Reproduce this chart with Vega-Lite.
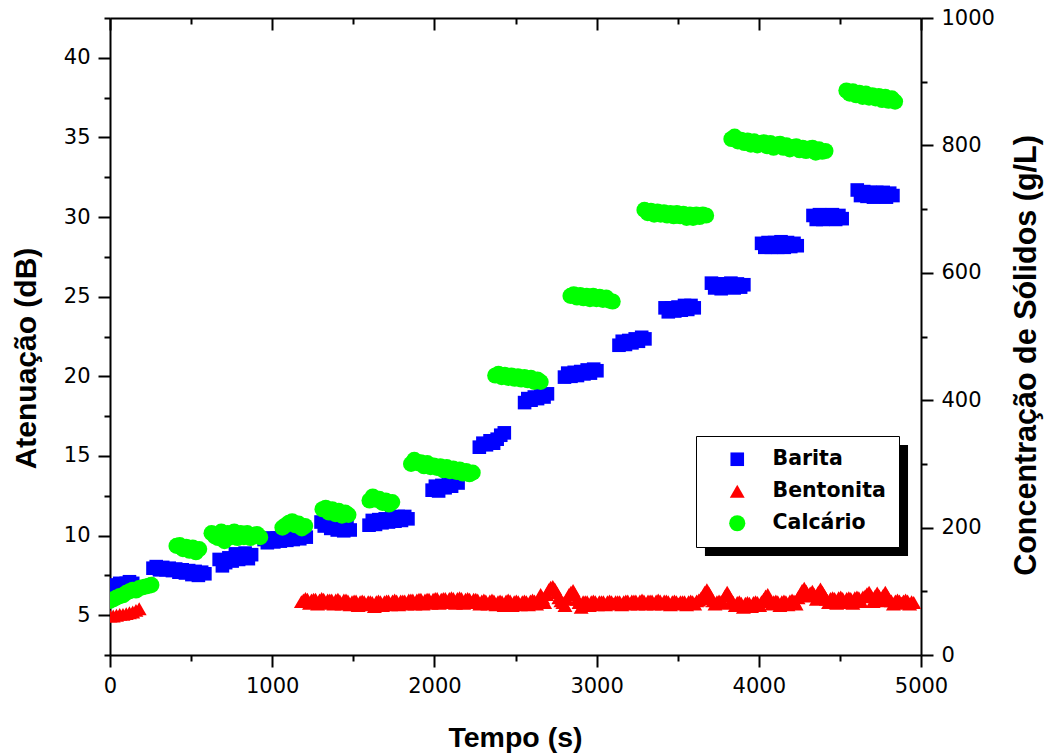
{
  "$schema": "https://vega.github.io/schema/vega-lite/v6.json",
  "width": 811,
  "height": 637,
  "autosize": "none",
  "padding": {"left": 110, "top": 18, "right": 123, "bottom": 98},
  "background": "white",
  "config": {
    "view": {"stroke": null},
    "font": "DejaVu Sans",
    "axis": {
      "domainColor": "black", "domainWidth": 2, "tickColor": "black", "tickWidth": 2,
      "labelColor": "black", "labelFont": "DejaVu Sans", "labelFontSize": 21, "labelPadding": 8,
      "titleColor": "black", "titleFont": "Liberation Sans", "titleFontWeight": "bold", "titleFontSize": 30,
      "grid": false, "zindex": 1, "format": "d", "labelFlush": false, "labelOverlap": false
    },
    "legend": {
      "orient": "none", "legendX": 586, "legendY": 418,
      "fillColor": "white", "strokeColor": "black", "padding": 13,
      "labelFont": "DejaVu Sans", "labelFontWeight": "bold", "labelFontSize": 20.5, "labelColor": "black",
      "rowPadding": 11, "symbolOffset": 18, "labelOffset": 25, "symbolStrokeWidth": 0
    }
  },
  "layer": [
    {
      "data": {"values": [
        {"t":0,"v":6.7,"m":"Barita"},{"t":20,"v":6.9,"m":"Barita"},{"t":40,"v":6.8,"m":"Barita"},{"t":60,"v":7.0,"m":"Barita"},{"t":80,"v":6.9,"m":"Barita"},{"t":100,"v":7.0,"m":"Barita"},{"t":120,"v":7.1,"m":"Barita"},{"t":140,"v":7.0,"m":"Barita"},
        {"t":265,"v":7.95,"m":"Barita"},{"t":285,"v":8.05,"m":"Barita"},{"t":305,"v":7.85,"m":"Barita"},{"t":325,"v":8.0,"m":"Barita"},{"t":345,"v":7.85,"m":"Barita"},{"t":365,"v":7.95,"m":"Barita"},{"t":385,"v":7.8,"m":"Barita"},{"t":405,"v":7.9,"m":"Barita"},{"t":425,"v":7.7,"m":"Barita"},{"t":445,"v":7.85,"m":"Barita"},{"t":465,"v":7.65,"m":"Barita"},{"t":485,"v":7.8,"m":"Barita"},{"t":505,"v":7.55,"m":"Barita"},{"t":525,"v":7.75,"m":"Barita"},{"t":545,"v":7.5,"m":"Barita"},{"t":565,"v":7.7,"m":"Barita"},{"t":585,"v":7.6,"m":"Barita"},
        {"t":673,"v":8.5,"m":"Barita"},{"t":693,"v":8.1,"m":"Barita"},{"t":713,"v":8.3,"m":"Barita"},{"t":733,"v":8.6,"m":"Barita"},{"t":753,"v":8.4,"m":"Barita"},{"t":773,"v":8.85,"m":"Barita"},{"t":793,"v":8.5,"m":"Barita"},{"t":813,"v":8.75,"m":"Barita"},{"t":833,"v":8.9,"m":"Barita"},{"t":853,"v":8.55,"m":"Barita"},{"t":873,"v":8.8,"m":"Barita"},
        {"t":950,"v":9.75,"m":"Barita"},{"t":970,"v":9.55,"m":"Barita"},{"t":990,"v":9.85,"m":"Barita"},{"t":1010,"v":9.6,"m":"Barita"},{"t":1030,"v":9.85,"m":"Barita"},{"t":1050,"v":9.65,"m":"Barita"},{"t":1070,"v":9.95,"m":"Barita"},{"t":1090,"v":9.7,"m":"Barita"},{"t":1110,"v":9.95,"m":"Barita"},{"t":1130,"v":9.75,"m":"Barita"},{"t":1150,"v":10.05,"m":"Barita"},{"t":1170,"v":9.8,"m":"Barita"},{"t":1190,"v":10.05,"m":"Barita"},{"t":1210,"v":9.9,"m":"Barita"},
        {"t":1301,"v":10.85,"m":"Barita"},{"t":1321,"v":10.6,"m":"Barita"},{"t":1341,"v":10.75,"m":"Barita"},{"t":1361,"v":10.45,"m":"Barita"},{"t":1381,"v":10.7,"m":"Barita"},{"t":1401,"v":10.35,"m":"Barita"},{"t":1421,"v":10.65,"m":"Barita"},{"t":1441,"v":10.3,"m":"Barita"},{"t":1461,"v":10.55,"m":"Barita"},{"t":1481,"v":10.35,"m":"Barita"},
        {"t":1597,"v":10.65,"m":"Barita"},{"t":1617,"v":10.95,"m":"Barita"},{"t":1637,"v":10.7,"m":"Barita"},{"t":1657,"v":11.0,"m":"Barita"},{"t":1677,"v":10.8,"m":"Barita"},{"t":1697,"v":11.05,"m":"Barita"},{"t":1717,"v":10.85,"m":"Barita"},{"t":1737,"v":11.15,"m":"Barita"},{"t":1757,"v":10.9,"m":"Barita"},{"t":1777,"v":11.2,"m":"Barita"},{"t":1797,"v":10.95,"m":"Barita"},{"t":1817,"v":11.2,"m":"Barita"},{"t":1837,"v":11.05,"m":"Barita"},
        {"t":1986,"v":12.85,"m":"Barita"},{"t":2006,"v":13.1,"m":"Barita"},{"t":2026,"v":12.8,"m":"Barita"},{"t":2046,"v":13.15,"m":"Barita"},{"t":2066,"v":13.0,"m":"Barita"},{"t":2086,"v":13.25,"m":"Barita"},{"t":2106,"v":13.1,"m":"Barita"},{"t":2126,"v":13.35,"m":"Barita"},{"t":2146,"v":13.3,"m":"Barita"},
        {"t":2277,"v":15.55,"m":"Barita"},{"t":2299,"v":15.8,"m":"Barita"},{"t":2321,"v":15.7,"m":"Barita"},{"t":2343,"v":15.95,"m":"Barita"},{"t":2365,"v":15.8,"m":"Barita"},{"t":2387,"v":16.05,"m":"Barita"},{"t":2409,"v":16.3,"m":"Barita"},{"t":2431,"v":16.45,"m":"Barita"},
        {"t":2556,"v":18.35,"m":"Barita"},{"t":2576,"v":18.6,"m":"Barita"},{"t":2596,"v":18.5,"m":"Barita"},{"t":2616,"v":18.7,"m":"Barita"},{"t":2636,"v":18.6,"m":"Barita"},{"t":2656,"v":18.85,"m":"Barita"},{"t":2676,"v":18.7,"m":"Barita"},{"t":2697,"v":18.9,"m":"Barita"},
        {"t":2802,"v":19.95,"m":"Barita"},{"t":2822,"v":20.2,"m":"Barita"},{"t":2842,"v":20.0,"m":"Barita"},{"t":2862,"v":20.25,"m":"Barita"},{"t":2882,"v":20.05,"m":"Barita"},{"t":2902,"v":20.3,"m":"Barita"},{"t":2922,"v":20.15,"m":"Barita"},{"t":2942,"v":20.4,"m":"Barita"},{"t":2962,"v":20.2,"m":"Barita"},{"t":2982,"v":20.45,"m":"Barita"},{"t":3002,"v":20.35,"m":"Barita"},
        {"t":3138,"v":21.95,"m":"Barita"},{"t":3158,"v":22.2,"m":"Barita"},{"t":3178,"v":22.0,"m":"Barita"},{"t":3198,"v":22.25,"m":"Barita"},{"t":3218,"v":22.1,"m":"Barita"},{"t":3238,"v":22.35,"m":"Barita"},{"t":3258,"v":22.2,"m":"Barita"},{"t":3278,"v":22.45,"m":"Barita"},{"t":3298,"v":22.35,"m":"Barita"},
        {"t":3422,"v":24.3,"m":"Barita"},{"t":3442,"v":24.05,"m":"Barita"},{"t":3462,"v":24.3,"m":"Barita"},{"t":3482,"v":24.1,"m":"Barita"},{"t":3502,"v":24.35,"m":"Barita"},{"t":3522,"v":24.15,"m":"Barita"},{"t":3542,"v":24.45,"m":"Barita"},{"t":3562,"v":24.2,"m":"Barita"},{"t":3582,"v":24.45,"m":"Barita"},{"t":3602,"v":24.3,"m":"Barita"},
        {"t":3708,"v":25.85,"m":"Barita"},{"t":3728,"v":25.55,"m":"Barita"},{"t":3748,"v":25.8,"m":"Barita"},{"t":3768,"v":25.5,"m":"Barita"},{"t":3788,"v":25.8,"m":"Barita"},{"t":3808,"v":25.6,"m":"Barita"},{"t":3828,"v":25.85,"m":"Barita"},{"t":3848,"v":25.55,"m":"Barita"},{"t":3868,"v":25.8,"m":"Barita"},{"t":3888,"v":25.6,"m":"Barita"},{"t":3908,"v":25.75,"m":"Barita"},
        {"t":4017,"v":28.35,"m":"Barita"},{"t":4037,"v":28.1,"m":"Barita"},{"t":4057,"v":28.4,"m":"Barita"},{"t":4077,"v":28.1,"m":"Barita"},{"t":4097,"v":28.4,"m":"Barita"},{"t":4117,"v":28.1,"m":"Barita"},{"t":4137,"v":28.45,"m":"Barita"},{"t":4157,"v":28.1,"m":"Barita"},{"t":4177,"v":28.4,"m":"Barita"},{"t":4197,"v":28.15,"m":"Barita"},{"t":4217,"v":28.35,"m":"Barita"},{"t":4237,"v":28.2,"m":"Barita"},
        {"t":4334,"v":30.1,"m":"Barita"},{"t":4354,"v":29.85,"m":"Barita"},{"t":4374,"v":30.15,"m":"Barita"},{"t":4394,"v":29.85,"m":"Barita"},{"t":4414,"v":30.1,"m":"Barita"},{"t":4434,"v":29.9,"m":"Barita"},{"t":4454,"v":30.15,"m":"Barita"},{"t":4474,"v":29.85,"m":"Barita"},{"t":4494,"v":30.1,"m":"Barita"},{"t":4514,"v":29.9,"m":"Barita"},
        {"t":4607,"v":31.7,"m":"Barita"},{"t":4627,"v":31.35,"m":"Barita"},{"t":4647,"v":31.6,"m":"Barita"},{"t":4667,"v":31.3,"m":"Barita"},{"t":4687,"v":31.55,"m":"Barita"},{"t":4707,"v":31.25,"m":"Barita"},{"t":4727,"v":31.55,"m":"Barita"},{"t":4747,"v":31.3,"m":"Barita"},{"t":4767,"v":31.55,"m":"Barita"},{"t":4787,"v":31.25,"m":"Barita"},{"t":4807,"v":31.5,"m":"Barita"},{"t":4827,"v":31.35,"m":"Barita"},

        {"t":0,"v":4.95,"m":"Bentonita"},{"t":20,"v":4.95,"m":"Bentonita"},{"t":40,"v":5.0,"m":"Bentonita"},{"t":60,"v":5.05,"m":"Bentonita"},{"t":80,"v":5.05,"m":"Bentonita"},{"t":100,"v":5.1,"m":"Bentonita"},{"t":120,"v":5.15,"m":"Bentonita"},{"t":140,"v":5.2,"m":"Bentonita"},{"t":160,"v":5.3,"m":"Bentonita"},{"t":180,"v":5.4,"m":"Bentonita"},
        {"t":1180,"v":5.85,"m":"Bentonita"},{"t":1205,"v":6.05,"m":"Bentonita"},{"t":1230,"v":5.75,"m":"Bentonita"},{"t":1255,"v":6.0,"m":"Bentonita"},{"t":1280,"v":5.7,"m":"Bentonita"},{"t":1305,"v":6.05,"m":"Bentonita"},{"t":1330,"v":5.75,"m":"Bentonita"},{"t":1355,"v":5.95,"m":"Bentonita"},{"t":1380,"v":5.7,"m":"Bentonita"},{"t":1405,"v":6.0,"m":"Bentonita"},{"t":1430,"v":5.7,"m":"Bentonita"},{"t":1455,"v":5.95,"m":"Bentonita"},{"t":1480,"v":5.65,"m":"Bentonita"},{"t":1505,"v":5.9,"m":"Bentonita"},{"t":1530,"v":5.6,"m":"Bentonita"},{"t":1555,"v":5.9,"m":"Bentonita"},{"t":1580,"v":5.65,"m":"Bentonita"},{"t":1605,"v":5.85,"m":"Bentonita"},{"t":1630,"v":5.55,"m":"Bentonita"},{"t":1655,"v":5.9,"m":"Bentonita"},{"t":1680,"v":5.6,"m":"Bentonita"},{"t":1705,"v":5.9,"m":"Bentonita"},{"t":1730,"v":5.65,"m":"Bentonita"},{"t":1755,"v":5.95,"m":"Bentonita"},{"t":1780,"v":5.65,"m":"Bentonita"},{"t":1805,"v":5.9,"m":"Bentonita"},{"t":1830,"v":5.7,"m":"Bentonita"},{"t":1855,"v":5.95,"m":"Bentonita"},{"t":1880,"v":5.7,"m":"Bentonita"},{"t":1905,"v":6.0,"m":"Bentonita"},{"t":1930,"v":5.7,"m":"Bentonita"},{"t":1955,"v":6.0,"m":"Bentonita"},{"t":1980,"v":5.75,"m":"Bentonita"},{"t":2005,"v":6.05,"m":"Bentonita"},{"t":2030,"v":5.75,"m":"Bentonita"},{"t":2055,"v":6.05,"m":"Bentonita"},{"t":2080,"v":5.8,"m":"Bentonita"},{"t":2105,"v":6.1,"m":"Bentonita"},{"t":2130,"v":5.75,"m":"Bentonita"},{"t":2155,"v":6.1,"m":"Bentonita"},{"t":2180,"v":5.75,"m":"Bentonita"},{"t":2205,"v":6.05,"m":"Bentonita"},{"t":2230,"v":5.8,"m":"Bentonita"},{"t":2255,"v":6.0,"m":"Bentonita"},{"t":2280,"v":5.7,"m":"Bentonita"},{"t":2305,"v":5.95,"m":"Bentonita"},{"t":2330,"v":5.7,"m":"Bentonita"},{"t":2355,"v":5.95,"m":"Bentonita"},{"t":2380,"v":5.65,"m":"Bentonita"},{"t":2405,"v":5.9,"m":"Bentonita"},{"t":2430,"v":5.6,"m":"Bentonita"},{"t":2455,"v":5.95,"m":"Bentonita"},{"t":2480,"v":5.6,"m":"Bentonita"},{"t":2505,"v":5.9,"m":"Bentonita"},{"t":2530,"v":5.65,"m":"Bentonita"},{"t":2555,"v":5.9,"m":"Bentonita"},{"t":2580,"v":5.65,"m":"Bentonita"},{"t":2605,"v":5.95,"m":"Bentonita"},{"t":2630,"v":5.7,"m":"Bentonita"},{"t":2655,"v":6.3,"m":"Bentonita"},{"t":2680,"v":5.8,"m":"Bentonita"},{"t":2705,"v":6.6,"m":"Bentonita"},{"t":2730,"v":6.8,"m":"Bentonita"},{"t":2755,"v":6.4,"m":"Bentonita"},{"t":2780,"v":5.9,"m":"Bentonita"},{"t":2805,"v":5.6,"m":"Bentonita"},{"t":2830,"v":6.3,"m":"Bentonita"},{"t":2855,"v":6.55,"m":"Bentonita"},{"t":2880,"v":6.0,"m":"Bentonita"},{"t":2905,"v":5.5,"m":"Bentonita"},{"t":2930,"v":5.85,"m":"Bentonita"},{"t":2955,"v":5.6,"m":"Bentonita"},{"t":2980,"v":5.9,"m":"Bentonita"},{"t":3005,"v":5.65,"m":"Bentonita"},{"t":3030,"v":5.85,"m":"Bentonita"},{"t":3055,"v":5.65,"m":"Bentonita"},{"t":3080,"v":5.9,"m":"Bentonita"},{"t":3105,"v":5.7,"m":"Bentonita"},{"t":3130,"v":5.85,"m":"Bentonita"},{"t":3155,"v":5.65,"m":"Bentonita"},{"t":3180,"v":5.9,"m":"Bentonita"},{"t":3205,"v":5.7,"m":"Bentonita"},{"t":3230,"v":5.9,"m":"Bentonita"},{"t":3255,"v":5.7,"m":"Bentonita"},{"t":3280,"v":5.95,"m":"Bentonita"},{"t":3305,"v":5.7,"m":"Bentonita"},{"t":3330,"v":5.9,"m":"Bentonita"},{"t":3355,"v":5.7,"m":"Bentonita"},{"t":3380,"v":5.95,"m":"Bentonita"},{"t":3405,"v":5.7,"m":"Bentonita"},{"t":3430,"v":5.9,"m":"Bentonita"},{"t":3455,"v":5.65,"m":"Bentonita"},{"t":3480,"v":5.9,"m":"Bentonita"},{"t":3505,"v":5.7,"m":"Bentonita"},{"t":3530,"v":5.85,"m":"Bentonita"},{"t":3555,"v":5.65,"m":"Bentonita"},{"t":3580,"v":5.9,"m":"Bentonita"},{"t":3605,"v":5.7,"m":"Bentonita"},{"t":3630,"v":5.95,"m":"Bentonita"},{"t":3655,"v":6.2,"m":"Bentonita"},{"t":3680,"v":6.6,"m":"Bentonita"},{"t":3705,"v":6.1,"m":"Bentonita"},{"t":3730,"v":5.7,"m":"Bentonita"},{"t":3755,"v":5.9,"m":"Bentonita"},{"t":3780,"v":5.75,"m":"Bentonita"},{"t":3805,"v":6.45,"m":"Bentonita"},{"t":3830,"v":5.9,"m":"Bentonita"},{"t":3855,"v":5.6,"m":"Bentonita"},{"t":3880,"v":5.85,"m":"Bentonita"},{"t":3905,"v":5.5,"m":"Bentonita"},{"t":3930,"v":5.8,"m":"Bentonita"},{"t":3955,"v":5.55,"m":"Bentonita"},{"t":3980,"v":5.85,"m":"Bentonita"},{"t":4005,"v":5.6,"m":"Bentonita"},{"t":4030,"v":6.0,"m":"Bentonita"},{"t":4055,"v":6.3,"m":"Bentonita"},{"t":4080,"v":5.7,"m":"Bentonita"},{"t":4105,"v":5.9,"m":"Bentonita"},{"t":4130,"v":5.6,"m":"Bentonita"},{"t":4155,"v":5.9,"m":"Bentonita"},{"t":4180,"v":5.65,"m":"Bentonita"},{"t":4205,"v":5.95,"m":"Bentonita"},{"t":4230,"v":5.7,"m":"Bentonita"},{"t":4255,"v":6.3,"m":"Bentonita"},{"t":4280,"v":6.7,"m":"Bentonita"},{"t":4305,"v":6.2,"m":"Bentonita"},{"t":4330,"v":6.5,"m":"Bentonita"},{"t":4355,"v":6.0,"m":"Bentonita"},{"t":4380,"v":6.65,"m":"Bentonita"},{"t":4405,"v":6.2,"m":"Bentonita"},{"t":4430,"v":5.8,"m":"Bentonita"},{"t":4455,"v":6.1,"m":"Bentonita"},{"t":4480,"v":5.75,"m":"Bentonita"},{"t":4505,"v":6.15,"m":"Bentonita"},{"t":4530,"v":5.8,"m":"Bentonita"},{"t":4555,"v":6.1,"m":"Bentonita"},{"t":4580,"v":5.75,"m":"Bentonita"},{"t":4605,"v":6.15,"m":"Bentonita"},{"t":4630,"v":5.85,"m":"Bentonita"},{"t":4655,"v":6.2,"m":"Bentonita"},{"t":4680,"v":6.45,"m":"Bentonita"},{"t":4705,"v":5.85,"m":"Bentonita"},{"t":4730,"v":6.4,"m":"Bentonita"},{"t":4755,"v":5.9,"m":"Bentonita"},{"t":4780,"v":6.45,"m":"Bentonita"},{"t":4805,"v":5.95,"m":"Bentonita"},{"t":4830,"v":5.7,"m":"Bentonita"},{"t":4855,"v":5.95,"m":"Bentonita"},{"t":4880,"v":5.75,"m":"Bentonita"},{"t":4905,"v":5.95,"m":"Bentonita"},{"t":4930,"v":5.7,"m":"Bentonita"},{"t":4955,"v":5.8,"m":"Bentonita"},
        {"t":1192,"v":5.95,"m":"Bentonita"},{"t":1217,"v":6.0,"m":"Bentonita"},{"t":1242,"v":5.95,"m":"Bentonita"},{"t":1267,"v":6.0,"m":"Bentonita"},{"t":1292,"v":5.95,"m":"Bentonita"},{"t":1317,"v":6.0,"m":"Bentonita"},{"t":1342,"v":5.95,"m":"Bentonita"},{"t":1367,"v":5.95,"m":"Bentonita"},{"t":1392,"v":5.95,"m":"Bentonita"},{"t":1417,"v":5.9,"m":"Bentonita"},{"t":1442,"v":5.95,"m":"Bentonita"},{"t":1467,"v":5.9,"m":"Bentonita"},{"t":1492,"v":5.85,"m":"Bentonita"},{"t":1517,"v":5.9,"m":"Bentonita"},{"t":1542,"v":5.85,"m":"Bentonita"},{"t":1567,"v":5.85,"m":"Bentonita"},{"t":1592,"v":5.85,"m":"Bentonita"},{"t":1617,"v":5.8,"m":"Bentonita"},{"t":1642,"v":5.85,"m":"Bentonita"},{"t":1667,"v":5.85,"m":"Bentonita"},{"t":1692,"v":5.85,"m":"Bentonita"},{"t":1717,"v":5.9,"m":"Bentonita"},{"t":1742,"v":5.9,"m":"Bentonita"},{"t":1767,"v":5.9,"m":"Bentonita"},{"t":1792,"v":5.9,"m":"Bentonita"},{"t":1817,"v":5.9,"m":"Bentonita"},{"t":1842,"v":5.95,"m":"Bentonita"},{"t":1867,"v":5.95,"m":"Bentonita"},{"t":1892,"v":5.95,"m":"Bentonita"},{"t":1917,"v":6.0,"m":"Bentonita"},{"t":1942,"v":5.95,"m":"Bentonita"},{"t":1967,"v":6.0,"m":"Bentonita"},{"t":1992,"v":6.0,"m":"Bentonita"},{"t":2017,"v":6.05,"m":"Bentonita"},{"t":2042,"v":6.0,"m":"Bentonita"},{"t":2067,"v":6.05,"m":"Bentonita"},{"t":2092,"v":6.05,"m":"Bentonita"},{"t":2117,"v":6.05,"m":"Bentonita"},{"t":2142,"v":6.05,"m":"Bentonita"},{"t":2167,"v":6.05,"m":"Bentonita"},{"t":2192,"v":6.0,"m":"Bentonita"},{"t":2217,"v":6.0,"m":"Bentonita"},{"t":2242,"v":6.0,"m":"Bentonita"},{"t":2267,"v":5.95,"m":"Bentonita"},{"t":2292,"v":5.9,"m":"Bentonita"},{"t":2317,"v":5.9,"m":"Bentonita"},{"t":2342,"v":5.9,"m":"Bentonita"},{"t":2367,"v":5.9,"m":"Bentonita"},{"t":2392,"v":5.85,"m":"Bentonita"},{"t":2417,"v":5.85,"m":"Bentonita"},{"t":2442,"v":5.9,"m":"Bentonita"},{"t":2467,"v":5.9,"m":"Bentonita"},{"t":2492,"v":5.85,"m":"Bentonita"},{"t":2517,"v":5.85,"m":"Bentonita"},{"t":2542,"v":5.85,"m":"Bentonita"},{"t":2567,"v":5.85,"m":"Bentonita"},{"t":2592,"v":5.9,"m":"Bentonita"},{"t":2617,"v":5.9,"m":"Bentonita"},{"t":2642,"v":6.0,"m":"Bentonita"},{"t":2667,"v":6.1,"m":"Bentonita"},{"t":2692,"v":6.3,"m":"Bentonita"},{"t":2717,"v":6.75,"m":"Bentonita"},{"t":2742,"v":6.65,"m":"Bentonita"},{"t":2767,"v":6.1,"m":"Bentonita"},{"t":2792,"v":5.8,"m":"Bentonita"},{"t":2817,"v":6.0,"m":"Bentonita"},{"t":2842,"v":6.45,"m":"Bentonita"},{"t":2867,"v":6.3,"m":"Bentonita"},{"t":2892,"v":5.8,"m":"Bentonita"},{"t":2917,"v":5.85,"m":"Bentonita"},{"t":2942,"v":5.85,"m":"Bentonita"},{"t":2967,"v":5.85,"m":"Bentonita"},{"t":2992,"v":5.85,"m":"Bentonita"},{"t":3017,"v":5.85,"m":"Bentonita"},{"t":3042,"v":5.85,"m":"Bentonita"},{"t":3067,"v":5.85,"m":"Bentonita"},{"t":3092,"v":5.85,"m":"Bentonita"},{"t":3117,"v":5.85,"m":"Bentonita"},{"t":3142,"v":5.85,"m":"Bentonita"},{"t":3167,"v":5.85,"m":"Bentonita"},{"t":3192,"v":5.9,"m":"Bentonita"},{"t":3217,"v":5.9,"m":"Bentonita"},{"t":3242,"v":5.9,"m":"Bentonita"},{"t":3267,"v":5.9,"m":"Bentonita"},{"t":3292,"v":5.9,"m":"Bentonita"},{"t":3317,"v":5.9,"m":"Bentonita"},{"t":3342,"v":5.9,"m":"Bentonita"},{"t":3367,"v":5.9,"m":"Bentonita"},{"t":3392,"v":5.9,"m":"Bentonita"},{"t":3417,"v":5.9,"m":"Bentonita"},{"t":3442,"v":5.85,"m":"Bentonita"},{"t":3467,"v":5.85,"m":"Bentonita"},{"t":3492,"v":5.85,"m":"Bentonita"},{"t":3517,"v":5.85,"m":"Bentonita"},{"t":3542,"v":5.85,"m":"Bentonita"},{"t":3567,"v":5.85,"m":"Bentonita"},{"t":3592,"v":5.85,"m":"Bentonita"},{"t":3617,"v":5.9,"m":"Bentonita"},{"t":3642,"v":6.05,"m":"Bentonita"},{"t":3667,"v":6.45,"m":"Bentonita"},{"t":3692,"v":6.4,"m":"Bentonita"},{"t":3717,"v":5.9,"m":"Bentonita"},{"t":3742,"v":5.85,"m":"Bentonita"},{"t":3767,"v":5.85,"m":"Bentonita"},{"t":3792,"v":6.2,"m":"Bentonita"},{"t":3817,"v":6.2,"m":"Bentonita"},{"t":3842,"v":5.8,"m":"Bentonita"},{"t":3867,"v":5.8,"m":"Bentonita"},{"t":3892,"v":5.75,"m":"Bentonita"},{"t":3917,"v":5.75,"m":"Bentonita"},{"t":3942,"v":5.75,"m":"Bentonita"},{"t":3967,"v":5.8,"m":"Bentonita"},{"t":3992,"v":5.8,"m":"Bentonita"},{"t":4017,"v":5.85,"m":"Bentonita"},{"t":4042,"v":6.2,"m":"Bentonita"},{"t":4067,"v":6.0,"m":"Bentonita"},{"t":4092,"v":5.85,"m":"Bentonita"},{"t":4117,"v":5.85,"m":"Bentonita"},{"t":4142,"v":5.85,"m":"Bentonita"},{"t":4167,"v":5.85,"m":"Bentonita"},{"t":4192,"v":5.9,"m":"Bentonita"},{"t":4217,"v":5.9,"m":"Bentonita"},{"t":4242,"v":6.1,"m":"Bentonita"},{"t":4267,"v":6.55,"m":"Bentonita"},{"t":4292,"v":6.5,"m":"Bentonita"},{"t":4317,"v":6.4,"m":"Bentonita"},{"t":4342,"v":6.3,"m":"Bentonita"},{"t":4367,"v":6.45,"m":"Bentonita"},{"t":4392,"v":6.45,"m":"Bentonita"},{"t":4417,"v":6.0,"m":"Bentonita"},{"t":4442,"v":6.05,"m":"Bentonita"},{"t":4467,"v":6.05,"m":"Bentonita"},{"t":4492,"v":6.1,"m":"Bentonita"},{"t":4517,"v":6.05,"m":"Bentonita"},{"t":4542,"v":6.05,"m":"Bentonita"},{"t":4567,"v":6.05,"m":"Bentonita"},{"t":4592,"v":6.1,"m":"Bentonita"},{"t":4617,"v":6.1,"m":"Bentonita"},{"t":4642,"v":6.15,"m":"Bentonita"},{"t":4667,"v":6.35,"m":"Bentonita"},{"t":4692,"v":6.2,"m":"Bentonita"},{"t":4717,"v":6.2,"m":"Bentonita"},{"t":4742,"v":6.2,"m":"Bentonita"},{"t":4767,"v":6.25,"m":"Bentonita"},{"t":4792,"v":6.2,"m":"Bentonita"},{"t":4817,"v":5.9,"m":"Bentonita"},{"t":4842,"v":5.9,"m":"Bentonita"},{"t":4867,"v":5.9,"m":"Bentonita"},{"t":4892,"v":5.9,"m":"Bentonita"},{"t":4917,"v":5.9,"m":"Bentonita"},{"t":4942,"v":5.85,"m":"Bentonita"},

        {"t":0,"v":5.9,"m":"Calcário"},{"t":20,"v":6.0,"m":"Calcário"},{"t":40,"v":6.1,"m":"Calcário"},{"t":60,"v":6.2,"m":"Calcário"},{"t":80,"v":6.25,"m":"Calcário"},{"t":100,"v":6.4,"m":"Calcário"},{"t":120,"v":6.5,"m":"Calcário"},{"t":140,"v":6.6,"m":"Calcário"},{"t":160,"v":6.55,"m":"Calcário"},{"t":180,"v":6.7,"m":"Calcário"},{"t":200,"v":6.75,"m":"Calcário"},{"t":220,"v":6.8,"m":"Calcário"},{"t":240,"v":6.85,"m":"Calcário"},{"t":255,"v":6.9,"m":"Calcário"},
        {"t":410,"v":9.35,"m":"Calcário"},{"t":430,"v":9.4,"m":"Calcário"},{"t":450,"v":9.15,"m":"Calcário"},{"t":470,"v":9.3,"m":"Calcário"},{"t":490,"v":9.05,"m":"Calcário"},{"t":510,"v":9.25,"m":"Calcário"},{"t":530,"v":8.95,"m":"Calcário"},{"t":550,"v":9.15,"m":"Calcário"},
        {"t":626,"v":10.15,"m":"Calcário"},{"t":646,"v":9.95,"m":"Calcário"},{"t":666,"v":9.85,"m":"Calcário"},{"t":686,"v":10.25,"m":"Calcário"},{"t":706,"v":9.65,"m":"Calcário"},{"t":726,"v":10.15,"m":"Calcário"},{"t":746,"v":9.9,"m":"Calcário"},{"t":766,"v":10.25,"m":"Calcário"},{"t":786,"v":9.85,"m":"Calcário"},{"t":806,"v":10.15,"m":"Calcário"},{"t":826,"v":9.9,"m":"Calcário"},{"t":846,"v":10.15,"m":"Calcário"},{"t":866,"v":9.85,"m":"Calcário"},{"t":886,"v":10.05,"m":"Calcário"},{"t":906,"v":10.1,"m":"Calcário"},{"t":926,"v":9.9,"m":"Calcário"},
        {"t":1063,"v":10.5,"m":"Calcário"},{"t":1083,"v":10.65,"m":"Calcário"},{"t":1103,"v":10.8,"m":"Calcário"},{"t":1123,"v":10.9,"m":"Calcário"},{"t":1143,"v":10.65,"m":"Calcário"},{"t":1163,"v":10.75,"m":"Calcário"},{"t":1183,"v":10.45,"m":"Calcário"},{"t":1203,"v":10.6,"m":"Calcário"},
        {"t":1310,"v":11.65,"m":"Calcário"},{"t":1330,"v":11.75,"m":"Calcário"},{"t":1350,"v":11.45,"m":"Calcário"},{"t":1370,"v":11.65,"m":"Calcário"},{"t":1390,"v":11.35,"m":"Calcário"},{"t":1410,"v":11.55,"m":"Calcário"},{"t":1430,"v":11.25,"m":"Calcário"},{"t":1450,"v":11.45,"m":"Calcário"},{"t":1470,"v":11.3,"m":"Calcário"},
        {"t":1600,"v":12.2,"m":"Calcário"},{"t":1620,"v":12.45,"m":"Calcário"},{"t":1640,"v":12.25,"m":"Calcário"},{"t":1660,"v":12.3,"m":"Calcário"},{"t":1680,"v":12.05,"m":"Calcário"},{"t":1700,"v":12.2,"m":"Calcário"},{"t":1720,"v":11.95,"m":"Calcário"},{"t":1740,"v":12.1,"m":"Calcário"},
        {"t":1856,"v":14.5,"m":"Calcário"},{"t":1876,"v":14.75,"m":"Calcário"},{"t":1896,"v":14.55,"m":"Calcário"},{"t":1916,"v":14.6,"m":"Calcário"},{"t":1936,"v":14.35,"m":"Calcário"},{"t":1956,"v":14.55,"m":"Calcário"},{"t":1976,"v":14.3,"m":"Calcário"},{"t":1996,"v":14.4,"m":"Calcário"},{"t":2016,"v":14.25,"m":"Calcário"},{"t":2036,"v":14.35,"m":"Calcário"},{"t":2056,"v":14.1,"m":"Calcário"},{"t":2076,"v":14.3,"m":"Calcário"},{"t":2096,"v":14.05,"m":"Calcário"},{"t":2116,"v":14.2,"m":"Calcário"},{"t":2136,"v":14.0,"m":"Calcário"},{"t":2156,"v":14.15,"m":"Calcário"},{"t":2176,"v":13.9,"m":"Calcário"},{"t":2196,"v":14.05,"m":"Calcário"},{"t":2216,"v":13.85,"m":"Calcário"},{"t":2236,"v":13.95,"m":"Calcário"},
        {"t":2375,"v":20.05,"m":"Calcário"},{"t":2395,"v":20.15,"m":"Calcário"},{"t":2415,"v":19.95,"m":"Calcário"},{"t":2435,"v":20.1,"m":"Calcário"},{"t":2455,"v":19.9,"m":"Calcário"},{"t":2475,"v":20.05,"m":"Calcário"},{"t":2495,"v":19.85,"m":"Calcário"},{"t":2515,"v":20.0,"m":"Calcário"},{"t":2535,"v":19.8,"m":"Calcário"},{"t":2555,"v":19.95,"m":"Calcário"},{"t":2575,"v":19.75,"m":"Calcário"},{"t":2595,"v":19.9,"m":"Calcário"},{"t":2615,"v":19.65,"m":"Calcário"},{"t":2635,"v":19.8,"m":"Calcário"},{"t":2655,"v":19.65,"m":"Calcário"},
        {"t":2839,"v":25.05,"m":"Calcário"},{"t":2859,"v":25.15,"m":"Calcário"},{"t":2879,"v":24.95,"m":"Calcário"},{"t":2899,"v":25.1,"m":"Calcário"},{"t":2919,"v":24.9,"m":"Calcário"},{"t":2939,"v":25.05,"m":"Calcário"},{"t":2959,"v":24.85,"m":"Calcário"},{"t":2979,"v":25.05,"m":"Calcário"},{"t":2999,"v":24.85,"m":"Calcário"},{"t":3019,"v":25.0,"m":"Calcário"},{"t":3039,"v":24.8,"m":"Calcário"},{"t":3059,"v":24.95,"m":"Calcário"},{"t":3079,"v":24.75,"m":"Calcário"},{"t":3099,"v":24.7,"m":"Calcário"},
        {"t":3295,"v":30.45,"m":"Calcário"},{"t":3315,"v":30.25,"m":"Calcário"},{"t":3335,"v":30.4,"m":"Calcário"},{"t":3355,"v":30.15,"m":"Calcário"},{"t":3375,"v":30.35,"m":"Calcário"},{"t":3395,"v":30.15,"m":"Calcário"},{"t":3415,"v":30.3,"m":"Calcário"},{"t":3435,"v":30.1,"m":"Calcário"},{"t":3455,"v":30.25,"m":"Calcário"},{"t":3475,"v":30.05,"m":"Calcário"},{"t":3495,"v":30.25,"m":"Calcário"},{"t":3515,"v":30.05,"m":"Calcário"},{"t":3535,"v":30.2,"m":"Calcário"},{"t":3555,"v":29.95,"m":"Calcário"},{"t":3575,"v":30.15,"m":"Calcário"},{"t":3595,"v":29.95,"m":"Calcário"},{"t":3615,"v":30.15,"m":"Calcário"},{"t":3635,"v":30.0,"m":"Calcário"},{"t":3655,"v":30.15,"m":"Calcário"},{"t":3675,"v":30.1,"m":"Calcário"},
        {"t":3831,"v":34.9,"m":"Calcário"},{"t":3851,"v":35.05,"m":"Calcário"},{"t":3871,"v":34.75,"m":"Calcário"},{"t":3891,"v":34.85,"m":"Calcário"},{"t":3911,"v":34.65,"m":"Calcário"},{"t":3931,"v":34.8,"m":"Calcário"},{"t":3951,"v":34.55,"m":"Calcário"},{"t":3971,"v":34.75,"m":"Calcário"},{"t":3991,"v":34.5,"m":"Calcário"},{"t":4011,"v":34.65,"m":"Calcário"},{"t":4031,"v":34.7,"m":"Calcário"},{"t":4051,"v":34.45,"m":"Calcário"},{"t":4071,"v":34.65,"m":"Calcário"},{"t":4091,"v":34.35,"m":"Calcário"},{"t":4111,"v":34.55,"m":"Calcário"},{"t":4131,"v":34.6,"m":"Calcário"},{"t":4151,"v":34.35,"m":"Calcário"},{"t":4171,"v":34.5,"m":"Calcário"},{"t":4191,"v":34.25,"m":"Calcário"},{"t":4211,"v":34.4,"m":"Calcário"},{"t":4231,"v":34.45,"m":"Calcário"},{"t":4251,"v":34.2,"m":"Calcário"},{"t":4271,"v":34.35,"m":"Calcário"},{"t":4291,"v":34.15,"m":"Calcário"},{"t":4311,"v":34.3,"m":"Calcário"},{"t":4331,"v":34.35,"m":"Calcário"},{"t":4351,"v":34.05,"m":"Calcário"},{"t":4371,"v":34.25,"m":"Calcário"},{"t":4391,"v":34.1,"m":"Calcário"},{"t":4411,"v":34.15,"m":"Calcário"},
        {"t":4540,"v":37.95,"m":"Calcário"},{"t":4560,"v":37.75,"m":"Calcário"},{"t":4580,"v":37.9,"m":"Calcário"},{"t":4600,"v":37.65,"m":"Calcário"},{"t":4620,"v":37.8,"m":"Calcário"},{"t":4640,"v":37.55,"m":"Calcário"},{"t":4660,"v":37.75,"m":"Calcário"},{"t":4680,"v":37.5,"m":"Calcário"},{"t":4700,"v":37.65,"m":"Calcário"},{"t":4720,"v":37.45,"m":"Calcário"},{"t":4740,"v":37.6,"m":"Calcário"},{"t":4760,"v":37.35,"m":"Calcário"},{"t":4780,"v":37.55,"m":"Calcário"},{"t":4800,"v":37.3,"m":"Calcário"},{"t":4820,"v":37.45,"m":"Calcário"},{"t":4840,"v":37.25,"m":"Calcário"}
      ]},
      "mark": {"type": "point", "filled": true, "opacity": 1, "clip": true, "strokeWidth": 0},
      "encoding": {
        "x": {
          "field": "t", "type": "quantitative",
          "scale": {"domain": [0, 5000], "nice": false, "zero": false},
          "axis": {
            "orient": "bottom", "title": "Tempo (s)", "titleFontSize": 28.5,
            "values": [0, 500, 1000, 1500, 2000, 2500, 3000, 3500, 4000, 4500, 5000],
            "labelExpr": "datum.value % 1000 === 0 ? datum.label : ''",
            "tickSize": {"condition": {"test": "datum.value % 1000 === 0", "value": 12}, "value": 6},
            "labelPadding": 8,
            "titleX": 405, "titleY": 91, "titleBaseline": "alphabetic"
          }
        },
        "y": {
          "field": "v", "type": "quantitative",
          "scale": {"domain": [2.5, 42.5], "nice": false, "zero": false},
          "axis": {
            "orient": "left", "title": "Atenuação (dB)",
            "values": [2.5, 5, 7.5, 10, 12.5, 15, 17.5, 20, 22.5, 25, 27.5, 30, 32.5, 35, 37.5, 40, 42.5],
            "labelExpr": "datum.value % 5 === 0 ? datum.label : ''",
            "tickSize": {"condition": {"test": "datum.value % 5 === 0", "value": 12}, "value": 6},
            "titleAngle": -90, "titleX": -75, "titleY": 340, "titleBaseline": "alphabetic", "titleAlign": "center"
          }
        },
        "color": {
          "field": "m", "type": "nominal", "title": null,
          "scale": {"domain": ["Barita", "Bentonita", "Calcário"], "range": ["#0000ff", "#ff0000", "#00ff00"]}
        },
        "shape": {
          "field": "m", "type": "nominal", "title": null,
          "scale": {"domain": ["Barita", "Bentonita", "Calcário"], "range": ["square", "triangle-up", "circle"]}
        },
        "size": {
          "field": "m", "type": "nominal", "title": null,
          "scale": {"domain": ["Barita", "Bentonita", "Calcário"], "range": [185, 260, 260]}
        }
      }
    },
    {
      "data": {"values": [{"k": "sombra"}]},
      "mark": {"type": "rect", "color": "black"},
      "encoding": {
        "x": {"datum": 3668, "type": "quantitative",
          "axis": {
            "orient": "top", "title": null, "labels": false,
            "values": [0, 500, 1000, 1500, 2000, 2500, 3000, 3500, 4000, 4500, 5000],
            "tickSize": {"condition": {"test": "datum.value % 1000 === 0", "value": -12}, "value": -6}
          }
        },
        "x2": {"datum": 4920},
        "y": {"datum": 329.7, "type": "quantitative",
          "scale": {"domain": [0, 1000], "nice": false, "zero": false},
          "axis": {
            "orient": "right", "title": "Concentração de Sólidos (g/L)", "titleFontSize": 30.5,
            "values": [0, 100, 200, 300, 400, 500, 600, 700, 800, 900, 1000],
            "labelExpr": "datum.value % 200 === 0 ? datum.label : ''",
            "tickSize": {"condition": {"test": "datum.value % 200 === 0", "value": 12}, "value": 6},
            "titleAngle": -90, "titleX": 114, "titleY": 337, "titleBaseline": "alphabetic", "titleAlign": "center"
          }
        },
        "y2": {"datum": 155.4}
      }
    }
  ],
  "resolve": {"scale": {"y": "independent"}}
}
